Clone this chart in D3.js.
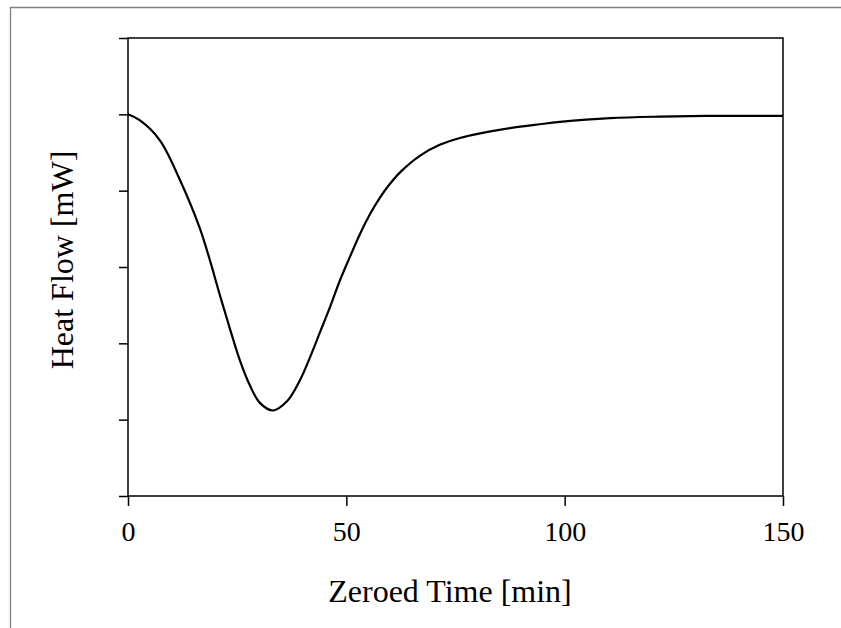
<!DOCTYPE html>
<html>
<head>
<meta charset="utf-8">
<script src="https://cdn.jsdelivr.net/npm/d3@7"></script>
<style>
  body { margin: 0; background: #fff; }
  svg { display: block; font-family: "Liberation Serif", "Times New Roman", serif; }
</style>
</head>
<body>
<svg id="chart" width="841" height="628"></svg>
<script>
// time in minutes
const timeMin = [0, 2.75, 7.3, 11.9, 16.5, 18.8, 21.1, 23.4, 25.6, 27.9, 30.2, 33.2,
  36.4, 39.4, 41.7, 44.0, 46.3, 48.5, 50.8, 53.1, 55.4, 57.7, 60.0, 62.3, 66.9,
  71.4, 76.0, 80.6, 87.5, 94.3, 98.9, 110.4, 121.8, 135.6, 150];
// heat flow (relative, mW) - axis has no labels so the zero is at the start level
const heatFlow = [0, -0.08, -0.34, -0.86, -1.50, -1.92, -2.38, -2.82, -3.22, -3.55, -3.78, -3.88,
  -3.76, -3.48, -3.18, -2.85, -2.52, -2.18, -1.87, -1.57, -1.31, -1.09, -0.91, -0.76, -0.54,
  -0.40, -0.31, -0.25, -0.18, -0.13, -0.10, -0.05, -0.03, -0.02, -0.02];
const xTicks = [0, 50, 100, 150];
const yTicks = [-5, -4, -3, -2, -1, 0, 1];

const svg = d3.select('#chart');
const plotLeft = 128, plotRight = 783, plotTop = 38, plotBottom = 496;

// outer frame (only left and top edges are visible)
svg.append('line').attr('x1', 10.5).attr('x2', 10.5).attr('y1', 7).attr('y2', 628)
  .attr('stroke', '#808080').attr('stroke-width', 1.3);
svg.append('line').attr('x1', 10).attr('x2', 841).attr('y1', 7.5).attr('y2', 7.5)
  .attr('stroke', '#808080').attr('stroke-width', 1.3);

const x = d3.scaleLinear().domain([0, 150]).range([plotLeft, plotRight]);
const y = d3.scaleLinear().domain([-5, 1]).range([plotBottom, plotTop]);

// plot box
svg.append('rect')
  .attr('x', plotLeft).attr('y', plotTop)
  .attr('width', plotRight - plotLeft).attr('height', plotBottom - plotTop)
  .attr('fill', 'none').attr('stroke', '#000').attr('stroke-width', 1.5);

const xAxis = svg.append('g')
  .attr('transform', `translate(0, ${plotBottom})`)
  .call(d3.axisBottom(x).tickValues(xTicks).tickSize(10).tickPadding(15).tickFormat(d3.format('d')));
xAxis.select('.domain').remove();
xAxis.selectAll('line').attr('stroke', '#000').attr('stroke-width', 1.5);
xAxis.selectAll('text').attr('font-size', 28).attr('font-family', '"Liberation Serif", serif').attr('fill', '#000');

const yAxis = svg.append('g')
  .attr('transform', `translate(${plotLeft}, 0)`)
  .call(d3.axisLeft(y).tickValues(yTicks).tickSize(9).tickFormat(''));
yAxis.select('.domain').remove();
yAxis.selectAll('line').attr('stroke', '#000').attr('stroke-width', 1.5);

// curve
const pts = timeMin.map((t, i) => [t, heatFlow[i]]);
svg.append('path')
  .datum(pts)
  .attr('fill', 'none')
  .attr('stroke', '#000')
  .attr('stroke-width', 2.2)
  .attr('d', d3.line().x(d => x(d[0])).y(d => y(d[1])).curve(d3.curveCatmullRom.alpha(0.5)));

// axis titles
svg.append('text')
  .attr('x', 450).attr('y', 602)
  .attr('text-anchor', 'middle')
  .attr('font-size', 32)
  .text('Zeroed Time [min]');

svg.append('text')
  .attr('transform', 'translate(73, 260) rotate(-90)')
  .attr('text-anchor', 'middle')
  .attr('font-size', 32)
  .text('Heat Flow [mW]');
</script>
</body>
</html>
